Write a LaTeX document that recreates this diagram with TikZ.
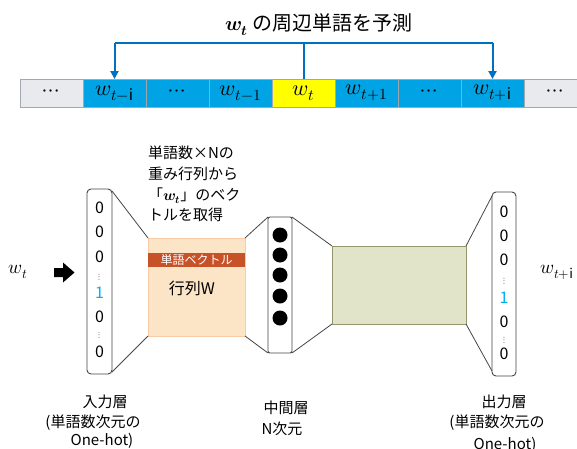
\documentclass[tikz,border=0pt]{standalone}
\usepackage{fontspec}
\usepackage{unicode-math}
\setmainfont{Noto Sans CJK JP}
\setmathfont{Latin Modern Math}
\usetikzlibrary{arrows.meta,calc}
\definecolor{cellgray}{RGB}{232,234,237}
\definecolor{cellblue}{RGB}{0,164,228}
\definecolor{cellyel}{RGB}{255,255,0}
\definecolor{cellline}{RGB}{160,168,176}
\definecolor{arrblue}{RGB}{0,112,192}
\definecolor{peach}{RGB}{252,228,198}
\definecolor{peachline}{RGB}{246,203,165}
\definecolor{rust}{RGB}{200,82,40}
\definecolor{olive}{RGB}{226,228,202}
\definecolor{oliveline}{RGB}{150,150,110}
\definecolor{onecol}{RGB}{0,176,240}
\definecolor{edge}{RGB}{70,70,70}
\newcommand{\bwt}{\ensuremath{\symbfit{w}_{\symbfit{t}}}}
\begin{document}
\begin{tikzpicture}[x=1pt,y=-1pt,
  every node/.style={inner sep=0pt,outer sep=0pt},
  cellfont/.style={font=\fontsize{22}{24}\selectfont},
  cellbox/.style={draw=cellline, line width=0.8pt, minimum width=63pt, minimum height=28pt, cellfont},
  graycell/.style={cellbox, fill=cellgray},
  bluecell/.style={cellbox, fill=cellblue},
  yelcell/.style={cellbox, fill=cellyel},
  vecbox/.style={draw=edge, line width=0.9pt, rounded corners=4pt, fill=white},
  digit/.style={font=\fontsize{16}{18}\selectfont, text height=11pt, text depth=0pt},
  vdot/.style={font=\fontsize{9}{10}\selectfont, text height=6pt, text depth=0pt},
  trap/.style={draw=edge, line width=0.8pt},
  neuron/.style={circle, fill=black, minimum size=15pt},
  lbl/.style={font=\fontsize{15}{18}\selectfont},
  sidew/.style={font=\fontsize{19}{20}\selectfont},
  toparrow/.style={draw=arrblue, line width=2pt},
  toptip/.style={toparrow, -{Triangle[length=8pt,width=8pt]}}
]
\clip (0,0) rectangle (577,448);
\fill[white] (0,0) rectangle (577,448);

% title
\node[font=\fontsize{20}{22}\selectfont] (title) at (319,25) {\bwt{} の周辺単語を予測};

% word sequence
\node[graycell] (c1) at (51.5,93) {$\cdots$};
\node[bluecell] (c2) at (114.5,93) {$w_{t-\mathrm{i}}$};
\node[bluecell] (c3) at (177.5,93) {$\cdots$};
\node[bluecell] (c4) at (240.5,93) {$w_{t-1}$};
\node[yelcell]  (c5) at (303.5,93) {$w_{t}$};
\node[bluecell] (c6) at (366.5,93) {$w_{t+1}$};
\node[bluecell] (c7) at (429.5,93) {$\cdots$};
\node[bluecell] (c8) at (492.5,93) {$w_{t+\mathrm{i}}$};
\node[graycell] (c9) at (555.5,93) {$\cdots$};

\coordinate (hy) at (0,43);
\draw[toparrow] (c5.north) -- (c5.north |- hy);
\draw[toparrow] (c2.north |- hy) -- (c8.north |- hy);
\draw[toptip] (c2.north |- hy) -- (c2.north);
\draw[toptip] (c8.north |- hy) -- (c8.north);

% annotation
\node[anchor=west, align=left, font=\fontsize{15}{20.7}\selectfont] (note) at (148,184)
  {単語数×Nの\\重み行列から\\「\bwt」のベク\\トルを取得};

% input
\node[sidew] (win) at (18,272) {$w_t$};
\fill[black] (54,268) -- (63,268) -- (63,262.5) -- (74.5,272.5) -- (63,282.5) -- (63,277) -- (54,277) -- cycle;

\node[vecbox, minimum width=25pt, minimum height=185pt] (inbox) at (99.5,281.5) {};
\node[digit] (i1) at (99.5,208) {0};
\node[digit] (i2) at (99.5,232) {0};
\node[digit] (i3) at (99.5,257) {0};
\node[vdot]  (i4) at (99.5,276) {$\vdots$};
\node[digit, text=onecol] (i5) at (99.5,293) {1};
\node[digit] (i6) at (99.5,317) {0};
\node[vdot]  (i7) at (99.5,334) {$\vdots$};
\node[digit] (i8) at (99.5,352) {0};

% weight matrix W
\node[fill=peach, draw=peachline, line width=0.6pt, minimum width=97pt, minimum height=98pt] (wmat) at (196.5,287) {};
\node[fill=rust, minimum width=97pt, minimum height=14pt, text=white, font=\fontsize{12}{13}\selectfont] (band) at (196.5,260) {単語ベクトル};
\node[font=\fontsize{16}{18}\selectfont] (wlab) at (192,288) {行列W};

% hidden layer
\node[vecbox, rounded corners=2pt, minimum width=24pt, minimum height=136pt] (mid) at (280,285) {};
\node[neuron] (n1) at (280,235) {};
\node[neuron] (n2) at (280,255) {};
\node[neuron] (n3) at (280,275) {};
\node[neuron] (n4) at (280,296) {};
\node[neuron] (n5) at (280,318) {};

% output matrix
\node[fill=olive, draw=oliveline, line width=0.8pt, minimum width=134pt, minimum height=78pt] (omat) at (399,285) {};

% output
\node[vecbox, minimum width=24pt, minimum height=184pt] (outbox) at (504,284) {};
\node[digit] (o1) at (504,212) {0};
\node[digit] (o2) at (504,236) {0};
\node[digit] (o3) at (504,260) {0};
\node[vdot]  (o4) at (504,280) {$\vdots$};
\node[digit, text=onecol] (o5) at (504,298) {1};
\node[digit] (o6) at (504,322) {0};
\node[vdot]  (o7) at (504,339) {$\vdots$};
\node[digit] (o8) at (504,354) {0};
\node[sidew] (wout) at (557,272) {$w_{t+\mathrm{i}}$};

% trapezoid connectors
\draw[trap] ([yshift=-2pt]inbox.north east) -- (wmat.north west);
\draw[trap] ([yshift=2pt]inbox.south east) -- (wmat.south west);
\draw[trap] (wmat.north east) -- (mid.north west);
\draw[trap] (wmat.south east) -- (mid.south west);
\draw[trap] (mid.north east) -- (omat.north west);
\draw[trap] (mid.south east) -- (omat.south west);
\draw[trap] (omat.north east) -- ([yshift=-4pt]outbox.north west);
\draw[trap] (omat.south east) -- ([yshift=5pt]outbox.south west);

% labels
\node[lbl] (l1a) at (105,402) {入力層};
\node[lbl] (l1b) at (93,423) {(単語数次元の};
\node[lbl] (l1c) at (102,441) {One-hot)};
\node[lbl] (l2a) at (286,408) {中間層};
\node[lbl] (l2b) at (282,429) {N次元};
\node[lbl] (l3a) at (504,402) {出力層};
\node[lbl] (l3b) at (497,423) {(単語数次元の};
\node[lbl] (l3c) at (505,445) {One-hot)};
\end{tikzpicture}
\end{document}
